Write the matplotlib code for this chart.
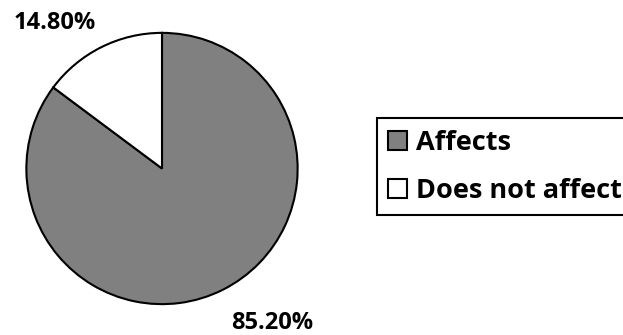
import matplotlib
matplotlib.use("Agg")
import matplotlib.pyplot as plt

# Survey result: share of respondents by answer
categories = ["Affects", "Does not affect"]
shares = [85.20, 14.80]
colors = ["#808080", "#ffffff"]

W, H = 623, 335
fig = plt.figure(figsize=(W / 100, H / 100), dpi=100)
fig.patch.set_facecolor("white")

# pie axes: centre (162, 168.5) px from top-left, radius 137 px
cx, cy, r = 162, 168.5, 137
ax = fig.add_axes([(cx - r) / W, (H - cy - r) / H, 2 * r / W, 2 * r / H])

wedges, _ = ax.pie(
    shares,
    colors=colors,
    startangle=90,
    counterclock=False,
    radius=1.0,
    wedgeprops=dict(edgecolor="black", linewidth=1.5),
)
ax.set_xlim(-1.01, 1.01)
ax.set_ylim(-1.01, 1.01)
ax.set_aspect("equal")
ax.axis("off")

label_font = dict(family="Open Sans", weight="bold", size=17)

# value labels placed outside the pie
label_pos = [(0.81, -1.14), (-0.79, 1.075)]
for val, (lx, ly) in zip(shares, label_pos):
    ax.text(lx, ly, f"{val:.2f}%", ha="center", va="center",
            clip_on=False, **label_font)

# legend frame runs past the right edge of the figure
leg = fig.legend(
    wedges,
    categories,
    loc="upper left",
    bbox_to_anchor=(377 / W, 1 - 118.5 / H, 280 / W, 0),
    mode="expand",
    frameon=True,
    fancybox=False,
    shadow=False,
    prop=dict(family="Open Sans", weight="bold", size=19.5),
    handlelength=0.7,
    handleheight=0.7,
    handletextpad=0.33,
    borderpad=0.41,
    labelspacing=0.83,
    borderaxespad=0,
)
frame = leg.get_frame()
frame.set_edgecolor("black")
frame.set_linewidth(1.5)
frame.set_alpha(1)

fig.savefig("out.png", dpi=100, facecolor="white")
